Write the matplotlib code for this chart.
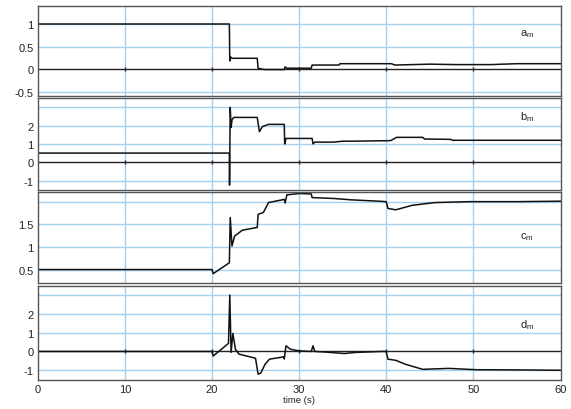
from matplotlib import pyplot as plt
import numpy as np

plt.rcParams['font.family'] = ['Liberation Sans', 'DejaVu Sans']
plt.rcParams['mathtext.fontset'] = 'custom'
plt.rcParams['mathtext.rm'] = 'Liberation Sans'

# a_m
a_t = [0, 22.0, 22.05, 22.15, 22.3, 25.2, 25.3, 26.0, 28.3, 28.4, 28.6, 31.4, 31.5,
       34.6, 34.7, 38, 40.6, 41, 43, 45, 48, 52, 55, 60]
a_v = [1, 1, 0.18, 0.27, 0.24, 0.24, 0.02, -0.01, -0.01, 0.05, 0.02, 0.02, 0.09,
       0.09, 0.12, 0.12, 0.12, 0.09, 0.1, 0.11, 0.1, 0.1, 0.12, 0.12]

# b_m
b_t = [0, 22.0, 22.02, 22.1, 22.2, 22.3, 22.5, 25.2, 25.45, 25.8, 26.5, 28.3, 28.35,
       28.5, 31.5, 31.6, 31.8, 34, 35, 36, 40.5, 41.2, 44.2, 44.4, 47.4, 47.6, 60]
b_v = [0.5, 0.5, -1.25, 3.0, 1.9, 2.3, 2.45, 2.45, 1.67, 1.95, 2.07, 2.07, 1.0,
       1.3, 1.3, 1.0, 1.1, 1.1, 1.15, 1.15, 1.18, 1.36, 1.36, 1.27, 1.25, 1.2, 1.2]

# c_m
c_t = [0, 20.0, 20.15, 22.0, 22.1, 22.3, 22.6, 23.5, 25.2, 25.3, 25.9, 26.5, 28.3,
       28.4, 28.6, 30.0, 31.4, 31.5, 34, 36, 39.2, 40.0, 40.2, 41.1, 43.0, 45.6,
       49.5, 55, 60]
c_v = [0.5, 0.5, 0.41, 0.65, 1.65, 1.02, 1.24, 1.37, 1.43, 1.72, 1.76, 1.98, 2.05,
       1.97, 2.15, 2.18, 2.17, 2.09, 2.07, 2.04, 2.01, 2.0, 1.85, 1.82, 1.92, 1.98,
       2.0, 2.0, 2.01]

# d_m
d_t = [0, 20.0, 20.15, 21.9, 22.05, 22.2, 22.4, 22.7, 23.1, 25.0, 25.3, 25.6, 26.1,
       26.6, 28.2, 28.3, 28.5, 29.0, 30.0, 31.4, 31.6, 31.8, 33, 35.2, 36.5, 39.5,
       40.0, 40.2, 41.1, 42.2, 44.2, 47.2, 50.3, 55, 60]
d_v = [0, 0, -0.24, 0.43, 3.0, -0.05, 0.96, 0.12, -0.14, -0.36, -1.21, -1.15, -0.68,
       -0.41, -0.29, -0.4, 0.3, 0.12, 0.03, 0.0, 0.3, 0.0, -0.03, -0.11, -0.05, 0,
       0, -0.41, -0.47, -0.68, -0.95, -0.9, -0.97, -0.98, -1.0]

panels = [
    (a_t, a_v, (-0.6, 1.4), [-0.5, 0, 0.5, 1], ['-0.5', '0', '0.5', '1'], 'a', 0.8, True),
    (b_t, b_v, (-1.5, 3.5), [-1, 0, 1, 2, 3], ['-1', '0', '1', '2', ''], 'b', 2.53, True),
    (c_t, c_v, (0.2, 2.22), [0.5, 1, 1.5, 2], ['0.5', '1', '1.5', ''], 'c', 1.235, False),
    (d_t, d_v, (-1.5, 3.5), [-1, 0, 1, 2, 3], ['-1', '0', '1', '2', ''], 'd', 1.46, True),
]
# [top, bottom] in figure fraction
rows = [(0.983, 0.763), (0.758, 0.535), (0.530, 0.307), (0.301, 0.0715)]

fig = plt.figure(figsize=(5.71, 4.10), dpi=100)
left, right = 0.066, 0.983
grid_col = '#a6d0f0'

for i, (t, v, ylim, yt, ylab, name, ypos, zero) in enumerate(panels):
    top, bot = rows[i]
    ax = fig.add_axes([left, bot, right - left, top - bot])
    for x in [10, 20, 30, 40, 50]:
        ax.axvline(x, color=grid_col, lw=1, zorder=0)
    for y in yt:
        if y != 0:
            ax.axhline(y, color=grid_col, lw=1, zorder=0)
    if zero:
        ax.axhline(0, color='#222222', lw=1, zorder=1)
        ax.plot([10, 20, 30, 40, 50], [0] * 5, linestyle='none', marker='|',
                ms=3, color='#222222', zorder=1)
    ax.plot(t, v, color='#111111', lw=1.1, zorder=2)
    ax.set_xlim(0, 60.1)
    ax.set_ylim(ylim)
    ax.set_yticks(yt)
    ax.set_yticklabels(ylab, fontsize=8, color='#222222')
    ax.tick_params(axis='both', length=0, pad=3)
    ax.set_xticks([0, 10, 20, 30, 40, 50, 60])
    if i < 3:
        ax.set_xticklabels([])
    else:
        ax.set_xticklabels(['0', '10', '20', '30', '40', '50', '60'],
                           fontsize=8, color='#222222')
        ax.set_xlabel('time (s)', fontsize=6.8, labelpad=1, color='#222222')
    for s in ax.spines.values():
        s.set_color('#555555')
        s.set_linewidth(1.0)
    ax.text(56.2, ypos, name + r'$_\mathrm{m}$', fontsize=8, color='#222222',
            ha='center', va='center')

plt.savefig('out.png', dpi=100)
